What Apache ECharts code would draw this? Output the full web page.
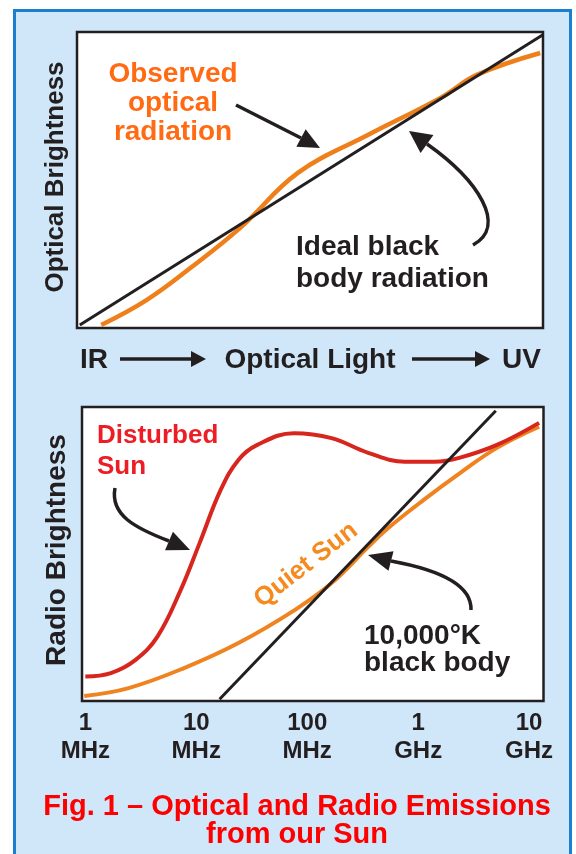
<!DOCTYPE html>
<html>
<head>
<meta charset="utf-8">
<title>Optical and Radio Emissions from our Sun</title>
<script src="https://cdn.jsdelivr.net/npm/echarts@6.0.0/dist/echarts.min.js"></script>
<style>
  body { margin: 0; background: #fff; }
  .frame {
    position: absolute; left: 13px; top: 9px;
    width: 553px; height: 860px;
    border: 3px solid #1b7fd0; background: #d0e7f9;
  }
  #chart { position: absolute; left: 0; top: 0; width: 576px; height: 854px; }
</style>
</head>
<body>
<div class="frame"></div>
<div id="chart"></div>
<script>
// top panel, arbitrary units 0..100 (IR -> UV, brightness)
const idealBody = [[0.6, 1], [99.9, 99]]
const observedOptical = [
  [5.2, 1.0], [15, 9.5], [24.6, 20.6], [35.2, 34.1], [47.4, 52.4],
  [62.4, 65.2], [78.3, 78.0], [85.8, 85.5], [99.4, 92.9],
]

// bottom panel, x = log10(frequency in MHz), y = brightness 0..100
const disturbedSun = [
  [0.0, 8.3], [0.23, 9.5], [0.45, 13.9], [0.65, 21.9], [0.86, 37.8],
  [1.03, 53.7], [1.22, 71.8], [1.38, 82.0], [1.55, 87.1], [1.88, 91.1],
  [2.22, 89.4], [2.55, 84.4], [2.88, 81.4], [3.15, 81.4], [3.37, 82.7],
  [3.71, 87.1], [4.09, 94.6],
]
const quietSun = [
  [-0.01, 1.7], [0.39, 4.4], [0.89, 11.2], [1.38, 19.7], [1.89, 31.0],
  [2.22, 40.1], [2.55, 52.4], [2.71, 58.2], [3.05, 68.4], [3.38, 77.6],
  [3.71, 86.1], [4.09, 93.3],
]
const blackBody10k = [[1.21, 0.6], [3.70, 98.7]]

const freqTicks = [0, 1, 2, 3, 4]
const freqNums = ['1', '10', '100', '1', '10']
const freqUnits = ['MHz', 'MHz', 'MHz', 'GHz', 'GHz']

const INK = '#231f20'
const FAMILY = '"Liberation Sans", Arial, sans-serif'

function label(text, x, y, size, fill, opt = {}) {
  return {
    type: 'text',
    x, y,
    rotation: opt.rotation || 0,
    z: 10,
    style: {
      text,
      fill,
      font: 'bold ' + size + 'px ' + FAMILY,
      align: opt.align || 'center',
      textAlign: opt.align || 'center',
      verticalAlign: 'middle',
      textVerticalAlign: 'middle',
      lineHeight: opt.lineHeight || size,
    },
  }
}

// triangle arrow head, pointing from base to tip
function head(tx, ty, bx, by, half) {
  const dx = tx - bx, dy = ty - by
  const L = Math.hypot(dx, dy)
  const nx = -dy / L * half, ny = dx / L * half
  return {
    type: 'polygon', z: 10,
    shape: { points: [[tx, ty], [bx + nx, by + ny], [bx - nx, by - ny]] },
    style: { fill: INK },
  }
}

function curve(x1, y1, cpx1, cpy1, cpx2, cpy2, x2, y2) {
  return {
    type: 'bezierCurve', z: 10,
    shape: { x1, y1, cpx1, cpy1, cpx2, cpy2, x2, y2 },
    style: { stroke: INK, lineWidth: 3.5, fill: null },
  }
}

function straight(x1, y1, x2, y2, w) {
  return {
    type: 'line', z: 10,
    shape: { x1, y1, x2, y2 },
    style: { stroke: INK, lineWidth: w || 3.5 },
  }
}

const hiddenAxis = (gridIndex, min, max) => ({
  gridIndex, type: 'value', min, max, show: false,
})

const chart = echarts.init(document.getElementById('chart'))

chart.setOption({
  animation: false,
  backgroundColor: 'transparent',
  grid: [
    { left: 77, top: 32, width: 466, height: 296, show: true,
      backgroundColor: '#fff', borderColor: INK, borderWidth: 2.5 },
    { left: 82, top: 407, width: 461.5, height: 294, show: true,
      backgroundColor: '#fff', borderColor: INK, borderWidth: 2.5 },
  ],
  xAxis: [
    hiddenAxis(0, 0, 100),
    {
      gridIndex: 1,
      type: 'value',
      min: -0.03,
      max: 4.13,
      axisLine: { show: false },
      axisTick: { show: false },
      splitLine: { show: false },
      axisLabel: {
        customValues: freqTicks,
        formatter: (v) => {
          const i = freqTicks.indexOf(Math.round(v))
          return freqNums[i] + '\n' + freqUnits[i]
        },
        margin: 8,
        color: INK,
        fontSize: 24,
        fontWeight: 'bold',
        fontFamily: FAMILY,
        lineHeight: 28,
      },
    },
  ],
  yAxis: [hiddenAxis(0, 0, 100), hiddenAxis(1, 0, 100)],
  series: [
    {
      name: 'Observed optical radiation', type: 'line',
      xAxisIndex: 0, yAxisIndex: 0,
      data: observedOptical, smooth: 0.4, symbol: 'none',
      lineStyle: { color: '#ef7f1a', width: 4.5 },
    },
    {
      name: 'Ideal black body radiation', type: 'line',
      xAxisIndex: 0, yAxisIndex: 0,
      data: idealBody, symbol: 'none',
      lineStyle: { color: INK, width: 3 },
    },
    {
      name: 'Quiet Sun', type: 'line',
      xAxisIndex: 1, yAxisIndex: 1,
      data: quietSun, smooth: 0.4, symbol: 'none',
      lineStyle: { color: '#ef8320', width: 4 },
    },
    {
      name: 'Disturbed Sun', type: 'line',
      xAxisIndex: 1, yAxisIndex: 1,
      data: disturbedSun, smooth: 0.4, symbol: 'none',
      lineStyle: { color: '#d7261e', width: 4 },
    },
    {
      name: '10,000°K black body', type: 'line',
      xAxisIndex: 1, yAxisIndex: 1,
      data: blackBody10k, symbol: 'none',
      lineStyle: { color: INK, width: 3 },
    },
  ],
  graphic: [
    // axis titles
    label('Optical Brightness', 56, 177, 26, INK, { rotation: Math.PI / 2 }),
    label('Radio Brightness', 57, 550, 28, INK, { rotation: Math.PI / 2 }),

    // top panel notes
    label('Observed\noptical\nradiation', 173, 103, 28, '#ff6a13', { lineHeight: 29 }),
    straight(236, 105, 301, 138),
    head(320, 148, 301, 138, 10),
    label('Ideal black\nbody radiation', 296, 263, 28, INK, { align: 'left', lineHeight: 32 }),
    curve(473, 245, 508, 226, 478, 180, 427, 144),
    head(409, 131, 427, 144, 11),

    // spectrum row under the top panel
    label('IR', 80, 360, 28, INK, { align: 'left' }),
    straight(120, 359, 192, 359),
    head(206, 359, 191, 359, 8),
    label('Optical Light', 310, 360, 28, INK),
    straight(412, 359, 476, 359),
    head(490, 359, 475, 359, 8),
    label('UV', 541, 360, 28, INK, { align: 'right' }),

    // bottom panel notes
    label('Disturbed\nSun', 97, 451, 26, '#ee1c24', { align: 'left', lineHeight: 31 }),
    curve(115, 488, 110, 515, 135, 528, 169, 541),
    head(190, 550, 169, 541, 10),
    label('Quiet Sun', 306, 565, 26, '#f58a1f', { rotation: 0.656 }),
    label('10,000°K\nblack body', 364, 650, 28, INK, { align: 'left', lineHeight: 27 }),
    curve(471, 610, 472, 585, 440, 570, 391, 561),
    head(368, 555, 391, 561, 10),

    // caption
    label('Fig. 1 – Optical and Radio Emissions\nfrom our Sun', 297, 821, 29, '#ff0000', { lineHeight: 28.5 }),
  ],
})

window.addEventListener('resize', () => chart.resize())
</script>
</body>
</html>
